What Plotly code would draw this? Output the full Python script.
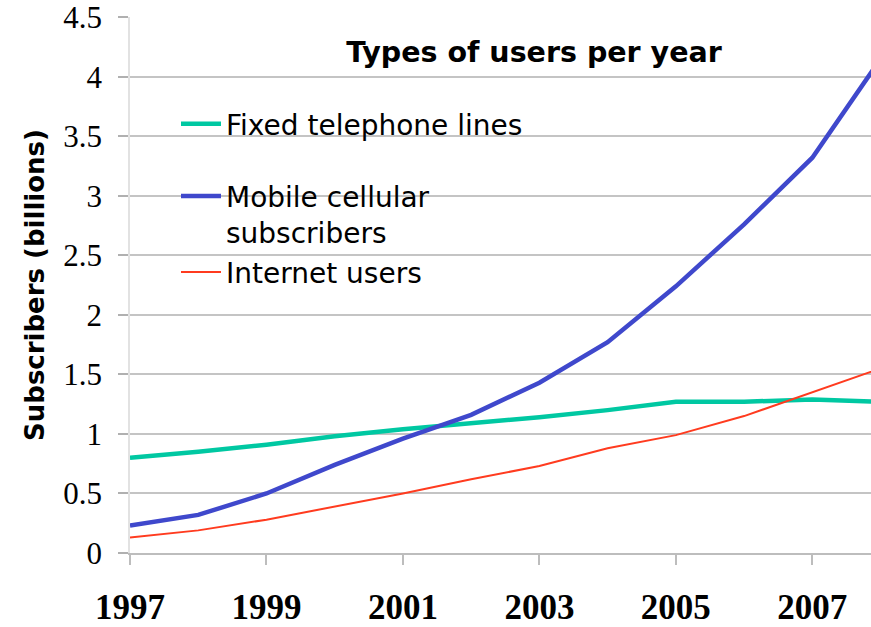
import plotly.graph_objects as go

years = [1997, 1998, 1999, 2000, 2001, 2002, 2003, 2004, 2005, 2006, 2007, 2008]
fixed_lines = [0.80, 0.85, 0.91, 0.98, 1.04, 1.09, 1.14, 1.20, 1.27, 1.27, 1.29, 1.27]
mobile_subs = [0.23, 0.32, 0.50, 0.74, 0.96, 1.16, 1.43, 1.77, 2.24, 2.76, 3.32, 4.15]
internet_users = [0.13, 0.19, 0.28, 0.39, 0.50, 0.62, 0.73, 0.88, 0.99, 1.15, 1.35, 1.55]

x_ticks = [1997, 1999, 2001, 2003, 2005, 2007]
y_ticks = [0, 0.5, 1, 1.5, 2, 2.5, 3, 3.5, 4, 4.5]
y_tick_text = ["0", "0.5", "1", "1.5", "2", "2.5", "3", "3.5", "4", "4.5"]

W, H = 871, 627
L, R, T, B = 130, 0, 17, 74
pw = W - L - R
ph = H - T - B

def px_x(p):
    return (p - L) / pw

def px_y(p):
    return 1 - (p - T) / ph

fig = go.Figure()
fig.add_trace(go.Scatter(x=years, y=fixed_lines, mode="lines", name="Fixed telephone lines",
                         line=dict(color="#00C8A2", width=4.5), legendgroup="a"))
fig.add_trace(go.Scatter(x=years, y=mobile_subs, mode="lines", name="Mobile cellular<br>subscribers",
                         line=dict(color="#3F48CC", width=4.5), legendgroup="b"))
fig.add_trace(go.Scatter(x=years, y=internet_users, mode="lines", name="Internet users",
                         line=dict(color="#FF3B1F", width=2), legendgroup="b"))

# white box behind the legend, hiding gridlines
fig.add_shape(type="rect", xref="paper", yref="paper",
              x0=px_x(147), x1=px_x(568), y0=px_y(335), y1=px_y(88),
              fillcolor="white", line=dict(width=0), layer="between")

fig.update_layout(
    width=W, height=H,
    margin=dict(l=L, r=R, t=T, b=B, autoexpand=False),
    paper_bgcolor="white", plot_bgcolor="white",
    showlegend=True,
    title=dict(text="<b>Types of users per year</b>", xref="paper", yref="container",
               x=px_x(534), xanchor="center", y=1 - 52 / H, yanchor="middle",
               font=dict(family="DejaVu Sans", size=28.5, color="black")),
    legend=dict(x=px_x(176), y=px_y(99), xanchor="left", yanchor="top",
                bgcolor="rgba(0,0,0,0)", borderwidth=0,
                font=dict(family="DejaVu Sans", size=28, color="black"),
                traceorder="grouped", tracegroupgap=33, valign="top", itemwidth=40),
)

fig.update_xaxes(range=[1997, 2007.86], tickvals=x_ticks, ticks="outside", ticklen=10,
                 tickcolor="#bdbdbd", tickwidth=1.5, showgrid=False, zeroline=False,
                 showline=True, linecolor="#bdbdbd", linewidth=2, automargin=False,
                 tickfont=dict(family="Liberation Serif", size=35, color="black", weight="bold"),
                 ticklabelstandoff=12, ticklabeloverflow="allow")
fig.update_yaxes(range=[0, 4.502], tickvals=y_ticks, ticktext=y_tick_text, ticks="outside",
                 ticklen=10, tickcolor="#b0b0b0", tickwidth=1.5,
                 showgrid=True, gridcolor="#c4c4c4", gridwidth=1.5, zeroline=False,
                 showline=True, linecolor="#e2e2e2", linewidth=1.5, automargin=False,
                 tickfont=dict(family="Liberation Serif", size=31, color="black"),
                 ticklabelstandoff=10, ticklabeloverflow="allow",
                 title=dict(text="<b>Subscribers (billions)</b>", standoff=11,
                            font=dict(family="DejaVu Sans", size=26, color="black")))

fig.write_html("out.html", config={"displayModeBar": False},
               post_script="document.body.style.margin='0';document.body.style.overflow='hidden';")
